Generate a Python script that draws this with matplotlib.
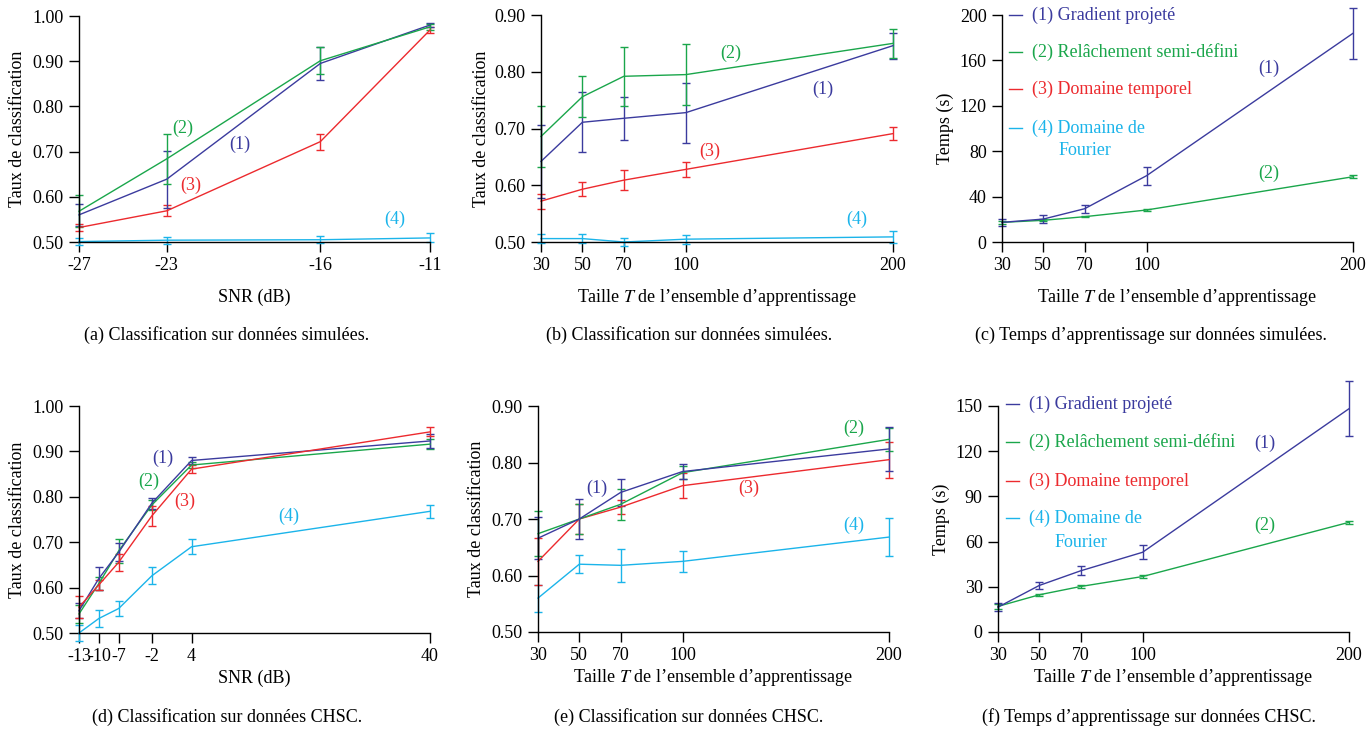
import numpy as np
import matplotlib
matplotlib.use("Agg")
import matplotlib.pyplot as plt

plt.rcParams["font.family"] = ["Liberation Serif", "DejaVu Serif"]
plt.rcParams["mathtext.fontset"] = "stix"
plt.rcParams["axes.unicode_minus"] = False
plt.rcParams["font.size"] = 13

W, H = 1369, 737

# colours of the four methods
C_GP = "#3b3b9e"
C_SDP = "#1aa64b"
C_TD = "#ec2a2e"
C_FD = "#1bb4ea"

# (a) simulated data, accuracy vs SNR
snr_sim = [-27, -23, -16, -11]
a_gp = [0.560, 0.639, 0.895, 0.980]
a_gp_err = [0.025, 0.063, 0.037, 0.005]
a_sdp = [0.568, 0.684, 0.901, 0.976]
a_sdp_err = [0.035, 0.056, 0.030, 0.006]
a_td = [0.532, 0.569, 0.722, 0.969]
a_td_err = [0.008, 0.012, 0.018, 0.006]
a_fd = [0.501, 0.504, 0.505, 0.509]
a_fd_err = [0.008, 0.008, 0.008, 0.010]

# (b) simulated data, accuracy vs training size
T_train = [30, 50, 70, 100, 200]
b_gp = [0.642, 0.711, 0.718, 0.728, 0.846]
b_gp_err = [0.064, 0.053, 0.038, 0.053, 0.023]
b_sdp = [0.686, 0.756, 0.792, 0.795, 0.850]
b_sdp_err = [0.054, 0.036, 0.052, 0.054, 0.025]
b_td = [0.572, 0.593, 0.609, 0.628, 0.691]
b_td_err = [0.013, 0.012, 0.018, 0.013, 0.011]
b_fd = [0.506, 0.506, 0.500, 0.505, 0.509]
b_fd_err = [0.008, 0.008, 0.007, 0.008, 0.011]

# (c) simulated data, training time
c_gp = [17.3, 20.2, 29.3, 58.4, 183.9]
c_gp_err = [3.0, 3.2, 3.5, 8.1, 22.7]
c_sdp = [17.3, 19.1, 22.3, 28.2, 57.5]
c_sdp_err = [1.5, 1.0, 0.7, 0.8, 1.5]

# (d) CHSC data, accuracy vs SNR
snr_chsc = [-13, -10, -7, -2, 4, 40]
d_gp = [0.549, 0.620, 0.678, 0.786, 0.880, 0.923]
d_gp_err = [0.017, 0.025, 0.020, 0.012, 0.007, 0.016]
d_sdp = [0.542, 0.609, 0.681, 0.782, 0.870, 0.916]
d_sdp_err = [0.020, 0.014, 0.026, 0.010, 0.006, 0.011]
d_td = [0.557, 0.606, 0.656, 0.758, 0.861, 0.943]
d_td_err = [0.024, 0.011, 0.019, 0.022, 0.008, 0.010]
d_fd = [0.500, 0.532, 0.554, 0.626, 0.690, 0.768]
d_fd_err = [0.018, 0.018, 0.017, 0.019, 0.017, 0.014]

# (e) CHSC data, accuracy vs training size
e_gp = [0.666, 0.700, 0.747, 0.784, 0.824]
e_gp_err = [0.037, 0.035, 0.024, 0.014, 0.039]
e_sdp = [0.674, 0.700, 0.726, 0.782, 0.841]
e_sdp_err = [0.040, 0.026, 0.027, 0.012, 0.020]
e_td = [0.625, 0.700, 0.721, 0.759, 0.805]
e_td_err = [0.041, 0.026, 0.013, 0.022, 0.032]
e_fd = [0.560, 0.620, 0.618, 0.625, 0.668]
e_fd_err = [0.024, 0.016, 0.029, 0.019, 0.033]

# (f) CHSC data, training time
f_gp = [16.5, 30.9, 40.6, 52.9, 148.2]
f_gp_err = [2.5, 2.5, 3.0, 4.7, 18.1]
f_sdp = [17.0, 24.7, 30.2, 36.8, 72.8]
f_sdp_err = [1.5, 0.6, 0.7, 1.0, 1.2]

legend_labels = ["(1) Gradient projeté", "(2) Relâchement semi-défini",
                 "(3) Domaine temporel", "(4) Domaine de"]
xlab_T = "Taille $T$ de l\u2019ensemble d\u2019apprentissage"


def make_ax(fig, l, t, r, b):
    # pixel box -> figure fraction
    ax = fig.add_axes([l / W, 1 - b / H, (r - l) / W, (b - t) / H])
    for s in ("top", "right"):
        ax.spines[s].set_visible(False)
    for s in ("left", "bottom"):
        ax.spines[s].set_linewidth(1.0)
    ax.tick_params(direction="out", length=7, width=1.0, labelsize=13, pad=4)
    return ax


def labels(ax, ylab, ylab_x, xlab, xlab_y):
    ax.set_ylabel(ylab)
    ax.yaxis.set_label_coords(ylab_x, 0.5)
    ax.yaxis.label.set_va("center")
    ax.set_xlabel(xlab)
    ax.xaxis.set_label_coords(0.5, xlab_y)
    ax.xaxis.label.set_va("center")


def draw(ax, x, y, err, color):
    ax.errorbar(x, y, yerr=err, color=color, lw=1.0, elinewidth=1.0,
                capsize=2.7, capthick=1.0, clip_on=False)


def tags(ax, items):
    for txt, xx, yy, c in items:
        ax.text(xx, yy, txt, color=c, ha="center", va="center", fontsize=13)


def legend_block(ax, rows, x_line, x_text, x_indent, y_extra):
    cols = [C_GP, C_SDP, C_TD, C_FD]
    for lab, yy, c in zip(legend_labels, rows, cols):
        ax.plot(x_line, [yy, yy], color=c, lw=1.0, transform=ax.transAxes, clip_on=False)
        ax.text(x_text, yy, lab, color=c, ha="left", va="center", fontsize=13,
                transform=ax.transAxes)
    ax.text(x_indent, y_extra, "Fourier", color=C_FD, ha="left", va="center",
            fontsize=13, transform=ax.transAxes)


fig = plt.figure(figsize=(W / 100, H / 100), dpi=100)

row1_xlab = -55 / 226
row2_xlab = -45 / 226

# ---- (a)
ax = make_ax(fig, 79, 16, 430, 242)
draw(ax, snr_sim, a_fd, a_fd_err, C_FD)
draw(ax, snr_sim, a_td, a_td_err, C_TD)
draw(ax, snr_sim, a_gp, a_gp_err, C_GP)
draw(ax, snr_sim, a_sdp, a_sdp_err, C_SDP)
ax.set_xlim(-27, -11)
ax.set_ylim(0.5, 1.0)
ax.set_xticks(snr_sim)
ax.set_yticks(np.arange(0.5, 1.01, 0.1))
ax.yaxis.set_major_formatter("{x:.2f}")
labels(ax, "Taux de classification", -0.174, "SNR (dB)", row1_xlab)
tags(ax, [("(2)", -22.26, 0.752, C_SDP), ("(1)", -19.66, 0.717, C_GP),
          ("(3)", -21.9, 0.626, C_TD), ("(4)", -12.6, 0.551, C_FD)])

# ---- (b)
ax = make_ax(fig, 541, 15, 893, 242)
draw(ax, T_train, b_fd, b_fd_err, C_FD)
draw(ax, T_train, b_td, b_td_err, C_TD)
draw(ax, T_train, b_gp, b_gp_err, C_GP)
draw(ax, T_train, b_sdp, b_sdp_err, C_SDP)
ax.set_xlim(30, 200)
ax.set_ylim(0.5, 0.9)
ax.set_xticks(T_train)
ax.set_yticks(np.arange(0.5, 0.91, 0.1))
ax.yaxis.set_major_formatter("{x:.2f}")
labels(ax, "Taux de classification", -0.17, xlab_T, row1_xlab)
tags(ax, [("(2)", 121.7, 0.833, C_SDP), ("(1)", 166, 0.769, C_GP),
          ("(3)", 111.4, 0.660, C_TD), ("(4)", 182.6, 0.540, C_FD)])

# ---- (c)
ax = make_ax(fig, 1002, 15, 1353, 242)
draw(ax, T_train, c_sdp, c_sdp_err, C_SDP)
draw(ax, T_train, c_gp, c_gp_err, C_GP)
ax.set_xlim(30, 200)
ax.set_ylim(0, 200)
ax.set_xticks(T_train)
ax.set_yticks(np.arange(0, 201, 40))
labels(ax, "Temps (s)", -0.162, xlab_T, row1_xlab)
tags(ax, [("(1)", 159.2, 153, C_GP), ("(2)", 159.2, 60.7, C_SDP)])
legend_block(ax, [1.0, 0.837, 0.674, 0.502], [0.020, 0.057], 0.085, 0.160, 0.401)

# ---- (d)
ax = make_ax(fig, 79, 406, 430, 633)
draw(ax, snr_chsc, d_fd, d_fd_err, C_FD)
draw(ax, snr_chsc, d_sdp, d_sdp_err, C_SDP)
draw(ax, snr_chsc, d_gp, d_gp_err, C_GP)
draw(ax, snr_chsc, d_td, d_td_err, C_TD)
ax.set_xlim(-13, 40)
ax.set_ylim(0.5, 1.0)
ax.set_xticks(snr_chsc)
ax.set_yticks(np.arange(0.5, 1.01, 0.1))
ax.yaxis.set_major_formatter("{x:.2f}")
labels(ax, "Taux de classification", -0.174, "SNR (dB)", row2_xlab)
tags(ax, [("(1)", -0.3, 0.885, C_GP), ("(2)", -2.4, 0.833, C_SDP),
          ("(3)", 2.9, 0.791, C_TD), ("(4)", 18.7, 0.758, C_FD)])

# ---- (e)
ax = make_ax(fig, 538, 406, 889, 632)
draw(ax, T_train, e_fd, e_fd_err, C_FD)
draw(ax, T_train, e_td, e_td_err, C_TD)
draw(ax, T_train, e_sdp, e_sdp_err, C_SDP)
draw(ax, T_train, e_gp, e_gp_err, C_GP)
ax.set_xlim(30, 200)
ax.set_ylim(0.5, 0.9)
ax.set_xticks(T_train)
ax.set_yticks(np.arange(0.5, 0.91, 0.1))
ax.yaxis.set_major_formatter("{x:.2f}")
labels(ax, "Taux de classification", -0.174, xlab_T, row2_xlab)
tags(ax, [("(1)", 58.7, 0.755, C_GP), ("(2)", 183, 0.861, C_SDP),
          ("(3)", 132, 0.755, C_TD), ("(4)", 183, 0.688, C_FD)])

# ---- (f)
ax = make_ax(fig, 998, 406, 1349, 632)
draw(ax, T_train, f_sdp, f_sdp_err, C_SDP)
draw(ax, T_train, f_gp, f_gp_err, C_GP)
ax.set_xlim(30, 200)
ax.set_ylim(0, 150)
ax.set_xticks(T_train)
ax.set_yticks(np.arange(0, 151, 30))
labels(ax, "Temps (s)", -0.16, xlab_T, row2_xlab)
tags(ax, [("(1)", 159.2, 125.5, C_GP), ("(2)", 159.2, 70.6, C_SDP)])
legend_block(ax, [1.009, 0.841, 0.668, 0.504], [0.023, 0.060], 0.088, 0.162, 0.398)

# captions
captions = ["(a) Classification sur données simulées.",
            "(b) Classification sur données simulées.",
            "(c) Temps d\u2019apprentissage sur données simulées.",
            "(d) Classification sur données CHSC.",
            "(e) Classification sur données CHSC.",
            "(f) Temps d\u2019apprentissage sur données CHSC."]
cap_x = [227, 689, 1151, 227, 689, 1149]
cap_y = [335, 335, 335, 717, 717, 717]
for txt, cx, cy in zip(captions, cap_x, cap_y):
    fig.text(cx / W, 1 - cy / H, txt, ha="center", va="center", fontsize=13)

fig.savefig("out.png", dpi=100)
